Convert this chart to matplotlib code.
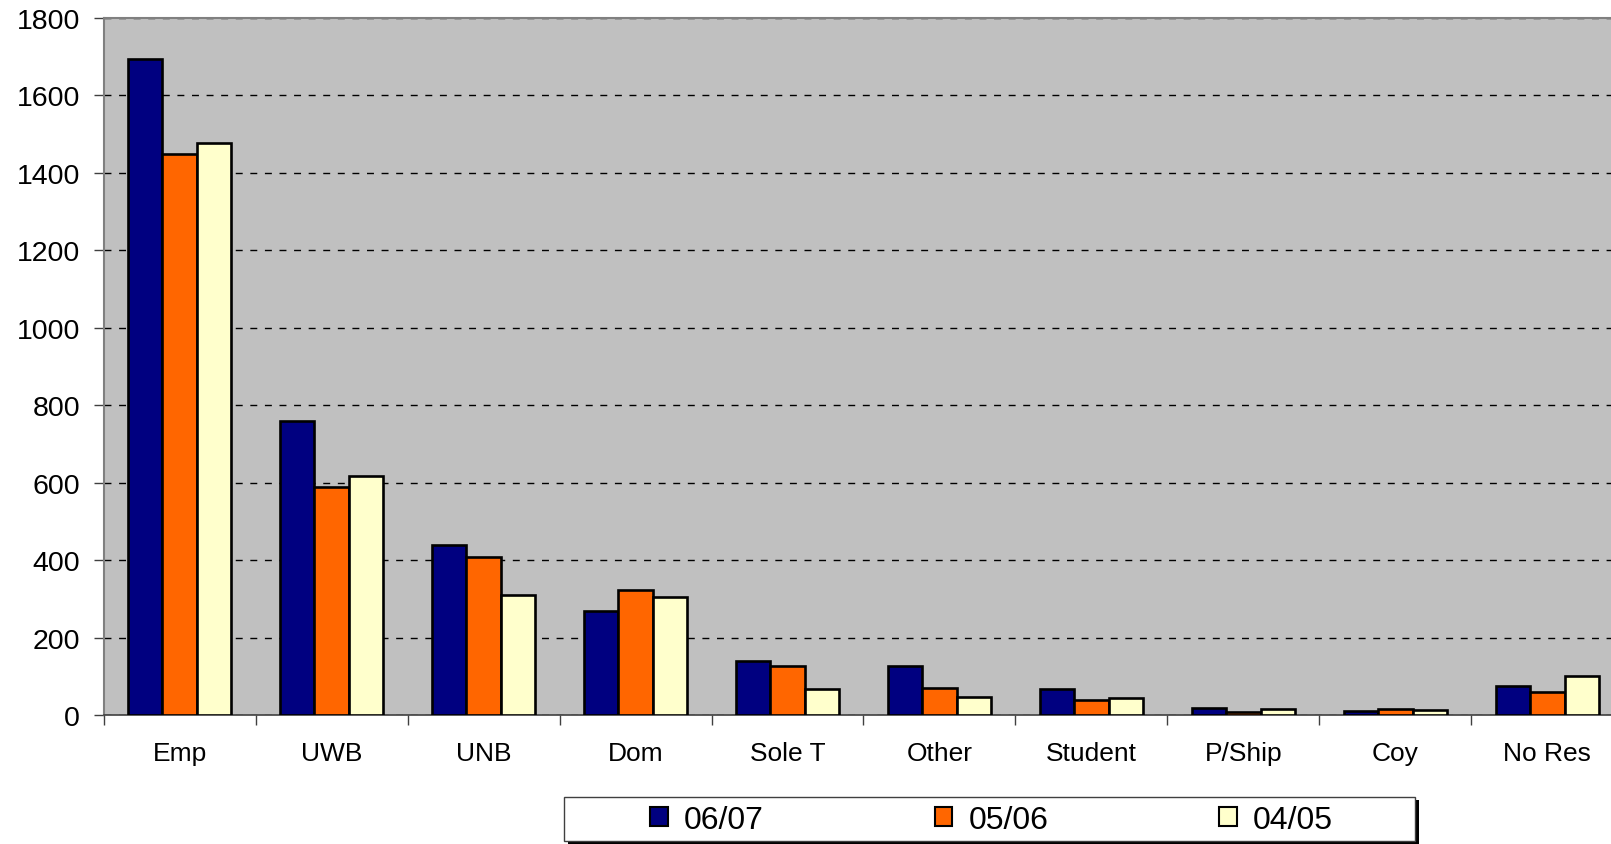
import numpy as np
import matplotlib.pyplot as plt
from matplotlib.patches import Rectangle, Patch

categorias = ['Emp', 'UWB', 'UNB', 'Dom', 'Sole T', 'Other', 'Student', 'P/Ship', 'Coy', 'No Res']
anos = ['06/07', '05/06', '04/05']
v0607 = [1694, 759, 438, 268, 140, 127, 67, 17, 11, 74]
v0506 = [1449, 589, 409, 324, 127, 69, 39, 7, 15, 60]
v0405 = [1476, 618, 311, 305, 66, 46, 45, 15, 12, 101]
cores = ['#000080', '#FF6600', '#FFFFCC']

plt.rcParams['font.family'] = ['Liberation Sans', 'DejaVu Sans']

fig = plt.figure(figsize=(16.11, 8.45), dpi=100)
ax = fig.add_axes([0.0644, 0.1527, 0.9432, 0.8248])
ax.set_facecolor('#C0C0C0')

x = np.arange(len(categorias))
w = 0.227
for i, (vals, cor) in enumerate(zip([v0607, v0506, v0405], cores)):
    ax.bar(x + (i - 1) * w, vals, w, color=cor, edgecolor='black', linewidth=1.9, zorder=3)

ax.set_xlim(-0.5, len(categorias) - 0.5)
ax.set_ylim(0, 1800)
ax.set_yticks(np.arange(0, 1801, 200))
ax.yaxis.grid(True, color='black', linestyle=(0, (5, 5.5)), linewidth=1.0, zorder=1)
ax.set_axisbelow(True)

ax.set_xticks(x)
ax.set_xticklabels(categorias, fontsize=19)
ax.set_xticks(np.arange(-0.5, len(categorias), 1), minor=True)
ax.tick_params(axis='x', which='major', length=0, pad=19)
ax.tick_params(axis='x', which='minor', length=7, width=1, color='#404040', direction='out')
ax.tick_params(axis='y', labelsize=20.5, length=7, width=1, color='#404040', pad=10)

for s in ['left', 'top']:
    ax.spines[s].set_color('#808080')
    ax.spines[s].set_linewidth(1.5)
ax.spines['bottom'].set_color('#404040')
ax.spines['bottom'].set_linewidth(1.2)
ax.spines['right'].set_visible(False)

# caixa da legenda com sombra
bx0, by0, bw, bh = 564 / 1611, 3 / 845, 851 / 1611, 44 / 845
fig.patches.append(Rectangle((bx0 + 4 / 1611, by0 - 3 / 845), bw, bh, transform=fig.transFigure,
                             facecolor='black', edgecolor='none', zorder=1))
fig.patches.append(Rectangle((bx0, by0), bw, bh, transform=fig.transFigure,
                             facecolor='white', edgecolor='#404040', linewidth=1, zorder=2))

handles = [Patch(facecolor=c, edgecolor='black', linewidth=1.5) for c in cores]
fig.legend(handles, anos, loc='center', bbox_to_anchor=(0.6155, 0.0285), ncol=3,
           frameon=False, fontsize=23, handlelength=0.55, handleheight=0.55,
           handletextpad=0.5, columnspacing=5.35)

fig.savefig('out.png', dpi=100)
